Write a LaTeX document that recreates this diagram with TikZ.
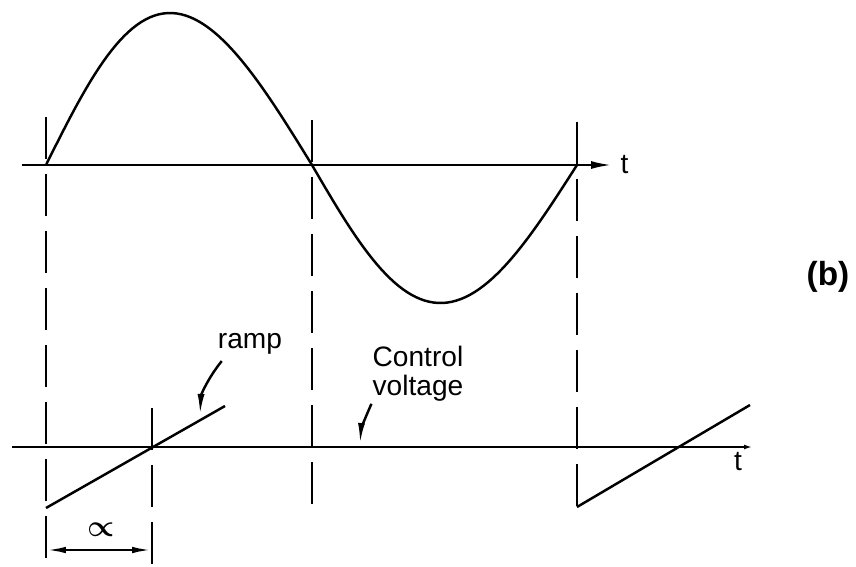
\documentclass[tikz,border=0pt]{standalone}
\usepackage{amsmath, amssymb}
\usepackage{fontspec}
\setmainfont{Liberation Sans}
\usepackage{tikz}
\usetikzlibrary{arrows.meta, positioning, calc}

\begin{document}
\begin{tikzpicture}[x=0.02cm, y=-0.02cm, line width=1.4pt,
    lbl/.style={font=\fontsize{16}{16.5}\selectfont, inner sep=0pt},
    guide/.style={line width=1.5pt, dash pattern=on 0.84cm off 0.3cm},
    tip/.style={-{Latex[length=0.42cm, width=0.14cm]}}]
    \useasboundingbox (0, 0) rectangle (856, 566);
    % 上：电源电压
    \draw[-{Latex[length=0.42cm, width=0.16cm]}] (22, 165) -- (612, 165) coordinate (ax1);
    \node[lbl, right=0.15cm of ax1] (t1) {t};
    \draw[domain=0:180, samples=60] plot ({46 + \x/180*266 - 9*sin(\x)}, {165 - 152*sin(\x)});
    \draw[domain=0:180, samples=60] plot ({312 + \x/180*265 - 4*sin(\x)}, {165 + 138*sin(\x)});
    \node[lbl, font=\fontsize{19}{20}\selectfont\bfseries] (b) at (828, 277) {(b)};
    % 竖直虚线
    \draw[guide] (46, 117) -- (46, 566);
    \draw[guide] (312, 120) -- (312, 510);
    \draw[guide] (577, 122) -- (577, 507);
    \draw[guide] (152, 408) -- (152, 566);
    % 下：锯齿波与控制电压
    \draw[-{Latex[length=0.16cm, width=0.1cm]}] (12, 447) -- (752, 447);
    \node[lbl] (t2) at (738, 462) {t};
    \draw (46, 508) -- (225, 406);
    \draw (577, 507) -- (750, 405);
    \draw[{Latex[length=0.4cm, width=0.13cm]}-{Latex[length=0.4cm, width=0.13cm]}] (46, 550) -- (152, 550);
    \node[inner sep=0pt] (alpha) at (101, 530) {\fontsize{18}{20}\selectfont$\boldsymbol{\propto}$};
    \node[lbl, anchor=base] (ramp) at (250, 348) {ramp};
    \coordinate (rampend) at (200, 415);
    \draw[tip] (ramp.south west) ++(5, 6) .. controls (208, 378) and (201, 395) .. (rampend);
    \node[lbl, align=center] (ctrl) at (418, 374) {Control\\voltage};
    \coordinate (ctrlend) at (360, 444);
    \draw[tip] (ctrl.south west) ++(0, 1) .. controls (365, 418) and (361, 430) .. (ctrlend);
\end{tikzpicture}
\end{document}
